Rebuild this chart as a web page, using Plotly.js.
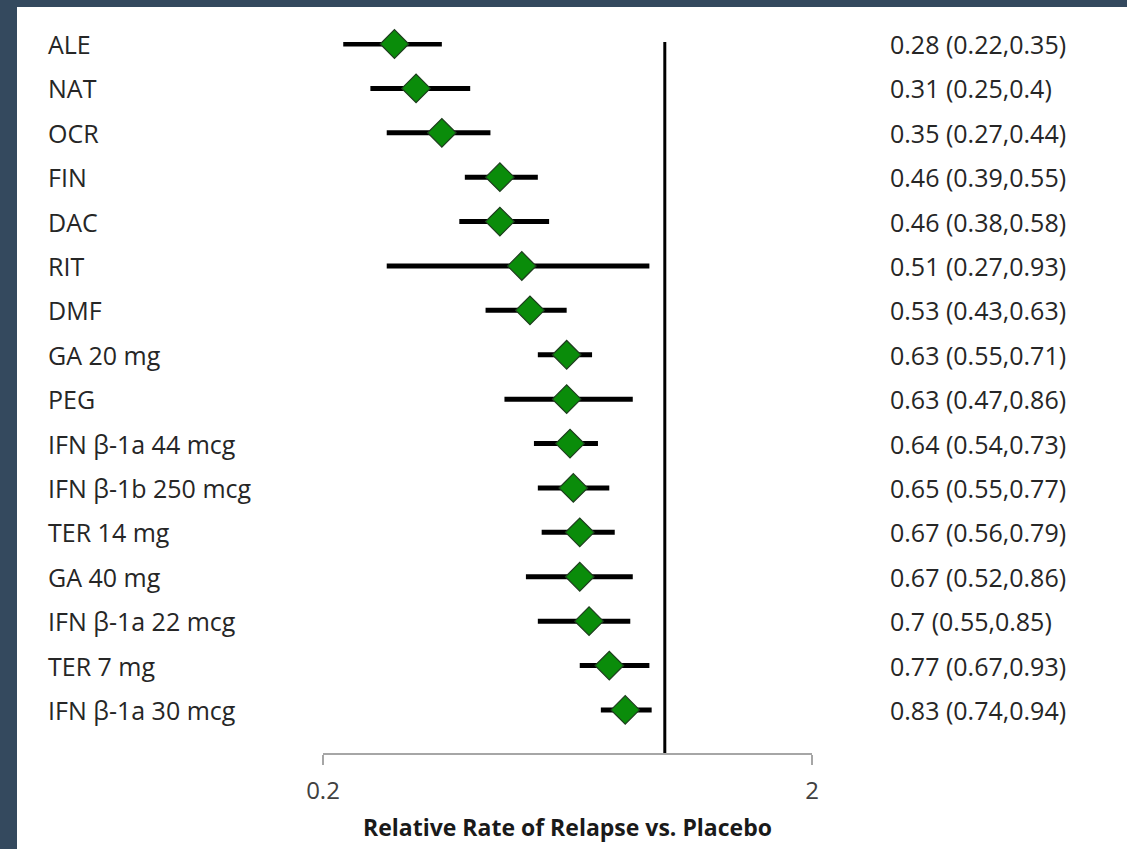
<!DOCTYPE html>
<html>
<head>
<meta charset="utf-8">
<script src="https://cdn.plot.ly/plotly-3.0.1.min.js"></script>
<style>
  html, body { margin: 0; padding: 0; background: #34495e; width: 1127px; height: 849px; overflow: hidden; }
  #chart { position: absolute; left: 17px; top: 7px; width: 1110px; height: 842px; background: #ffffff; }
</style>
</head>
<body>
<div id="chart"></div>
<script>
const treatments = ["ALE", "NAT", "OCR", "FIN", "DAC", "RIT", "DMF", "GA 20 mg", "PEG",
  "IFN β-1a 44 mcg", "IFN β-1b 250 mcg", "TER 14 mg", "GA 40 mg", "IFN β-1a 22 mcg",
  "TER 7 mg", "IFN β-1a 30 mcg"];
const estimate = [0.28, 0.31, 0.35, 0.46, 0.46, 0.51, 0.53, 0.63, 0.63, 0.64, 0.65, 0.67, 0.67, 0.7, 0.77, 0.83];
const lower = [0.22, 0.25, 0.27, 0.39, 0.38, 0.27, 0.43, 0.55, 0.47, 0.54, 0.55, 0.56, 0.52, 0.55, 0.67, 0.74];
const upper = [0.35, 0.4, 0.44, 0.55, 0.58, 0.93, 0.63, 0.71, 0.86, 0.73, 0.77, 0.79, 0.86, 0.85, 0.93, 0.94];
const rowText = ["0.28 (0.22,0.35)", "0.31 (0.25,0.4)", "0.35 (0.27,0.44)", "0.46 (0.39,0.55)",
  "0.46 (0.38,0.58)", "0.51 (0.27,0.93)", "0.53 (0.43,0.63)", "0.63 (0.55,0.71)",
  "0.63 (0.47,0.86)", "0.64 (0.54,0.73)", "0.65 (0.55,0.77)", "0.67 (0.56,0.79)",
  "0.67 (0.52,0.86)", "0.7 (0.55,0.85)", "0.77 (0.67,0.93)", "0.83 (0.74,0.94)"];
const xTickVals = [0.2, 2];
const xTickText = ["0.2", "2"];
const nullValue = 1;

const rows = treatments.map((_, i) => i);
const FONT = "'Open Sans', 'Noto Sans', sans-serif";

const trace = {
  type: "scatter",
  mode: "markers",
  x: estimate,
  y: rows,
  cliponaxis: false,
  marker: { symbol: "diamond", size: 22, color: "#0a8c0a", line: { color: "#1e3d1e", width: 1.2 } },
  error_x: {
    type: "data", symmetric: false,
    array: upper.map((u, i) => u - estimate[i]),
    arrayminus: lower.map((l, i) => estimate[i] - l),
    color: "#000000", thickness: 5, width: 0
  },
  hoverinfo: "skip",
  showlegend: false
};

const annotations = [];
treatments.forEach((t, i) => {
  annotations.push({ xref: "paper", yref: "y", x: -0.5665, y: i, text: t, showarrow: false,
    xanchor: "left", yanchor: "middle", font: { family: FONT, size: 25, color: "#262626" } });
  annotations.push({ xref: "paper", yref: "y", x: 1.1554, y: i, text: rowText[i], showarrow: false,
    xanchor: "left", yanchor: "middle", font: { family: FONT, size: 25, color: "#262626" } });
});

const layout = {
  width: 1110, height: 842,
  margin: { l: 306, r: 315, t: 35, b: 96, pad: 0 },
  paper_bgcolor: "#ffffff",
  plot_bgcolor: "rgba(0,0,0,0)",
  font: { family: FONT, color: "#262626" },
  xaxis: {
    type: "log",
    range: [Math.log10(0.2), Math.log10(2)],
    tickvals: xTickVals, ticktext: xTickText,
    ticks: "outside", ticklen: 10, tickwidth: 1.5, tickcolor: "#a6a6a6",
    showline: true, linecolor: "#a6a6a6", linewidth: 1.5,
    showgrid: false, zeroline: false,
    tickfont: { family: FONT, size: 24, color: "#404040" },
    ticklabelstandoff: 6,
    title: { text: "<b>Relative Rate of Relapse vs. Placebo</b>", font: { family: FONT, size: 23, color: "#1a1a1a" }, standoff: 14 },
    fixedrange: true
  },
  yaxis: {
    range: [15.97, -0.045],
    showticklabels: false, showgrid: false, zeroline: false, showline: false, ticks: "",
    fixedrange: true
  },
  shapes: [{
    type: "line", xref: "x", yref: "paper", x0: nullValue, x1: nullValue, y0: 0, y1: 1,
    line: { color: "#000000", width: 3 }, layer: "below"
  }],
  annotations: annotations
};

Plotly.newPlot("chart", [trace], layout, { displayModeBar: false, staticPlot: true });
</script>
</body>
</html>
